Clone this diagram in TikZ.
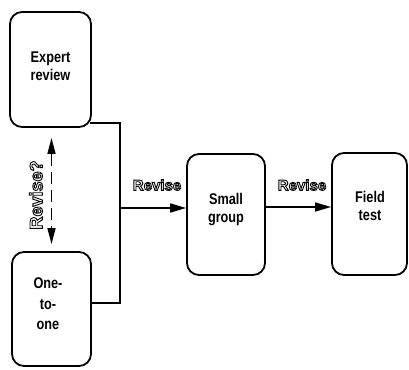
\documentclass[tikz,border=0pt]{standalone}
\usepackage{fontspec}
\setmainfont{Liberation Sans}
\newfontfamily\condfont[FakeStretch=0.82]{Liberation Sans}
\newcommand{\hollow}[1]{\special{pdf:literal direct 1 Tr 0.9 w}#1\special{pdf:literal direct 0 Tr}}
\usetikzlibrary{arrows.meta}
\begin{document}
\begin{tikzpicture}[x=1pt,y=-1pt,
  stage/.style={draw, line width=1.8pt, rounded corners=12pt, inner sep=0pt},
  lbl/.style={align=center, font=\condfont\fontsize{15.5}{18}\selectfont\bfseries, inner sep=0pt},
  conn/.style={line width=1.6pt},
  arr/.style={line width=1.6pt, -{Triangle[length=16pt,width=9pt]}},
  rev/.style={font=\fontsize{15}{16}\selectfont\bfseries, inner sep=0pt}]
\useasboundingbox (0,0) rectangle (409,369);
\node[stage, minimum width=81pt, minimum height=115pt] (expert) at (50.5,69.5) {};
\node[lbl] (expertt) at (50.5,66) {Expert\\review};
\node[stage, minimum width=79pt, minimum height=114pt] (one) at (51.5,309) {};
\node[lbl, font=\condfont\fontsize{15.5}{20.5}\selectfont\bfseries] (onet) at (48,304) {One-\\to-\\one};
\node[stage, minimum width=78pt, minimum height=121pt] (small) at (226,214.5) {};
\node[lbl] (smallt) at (226,210) {Small\\group};
\node[stage, minimum width=75pt, minimum height=122pt] (field) at (369.5,214) {};
\node[lbl] (fieldt) at (370,206) {Field\\test};
\coordinate (jt) at (120,123);
\coordinate (jb) at (120,303);
\coordinate (jm) at (120,208);
\draw[conn] (expert.east |- jt) ++(-1.5,0) -- (jt) -- (jb) -- ([xshift=-1.5pt]one.east |- jb);
\draw[arr] (jm) -- (small.west |- jm);
\draw[arr] (small.east |- 0,207) -- (field.west |- 0,207);
\draw[line width=1.6pt, dash pattern=on 12pt off 6pt,
  {Triangle[length=16pt,width=8pt]}-{Triangle[length=16pt,width=8pt]}]
  ([shift={(1,10)}]expert.south) -- ([shift={(0,-7)}]one.north);
\node[rev] (r1) at (157,185) {\hollow{Revise}};
\node[rev] (r2) at (302,185) {\hollow{Revise}};
\node[rev, font=\fontsize{18}{20}\selectfont\bfseries, rotate=90] (r3) at (36,195) {\hollow{Revise?}};
\end{tikzpicture}
\end{document}
